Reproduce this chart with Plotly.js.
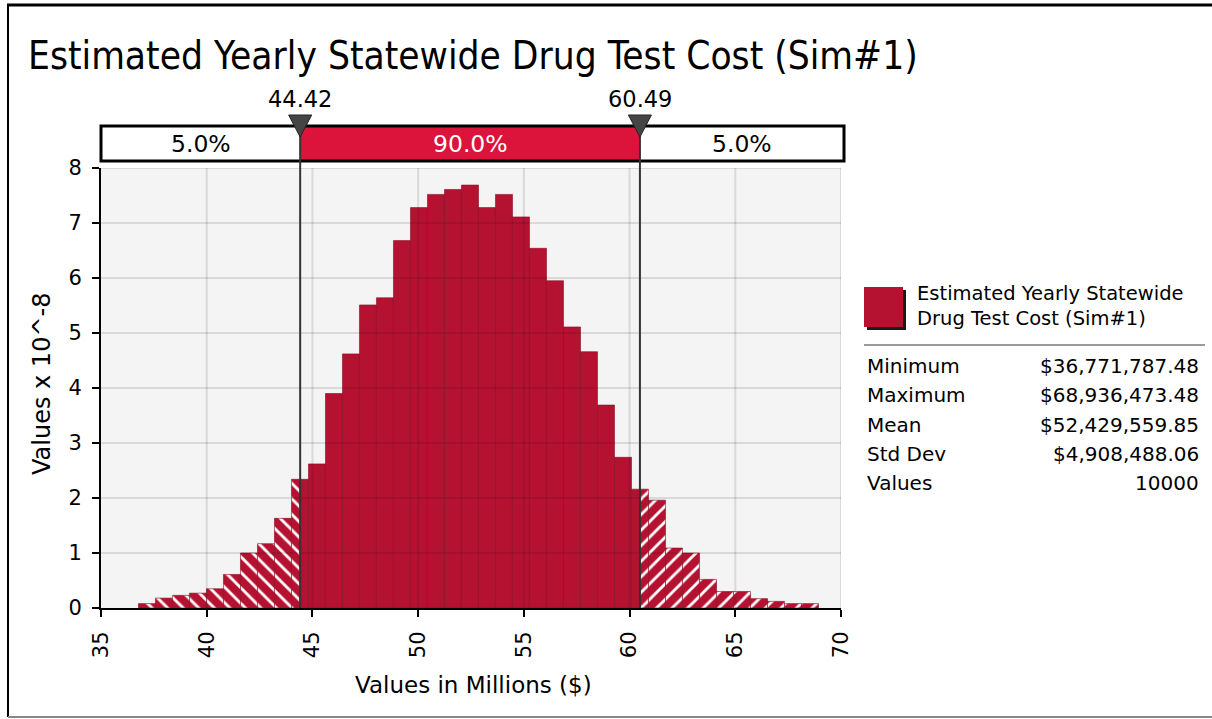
<!DOCTYPE html>
<html><head><meta charset="utf-8">
<script src="https://cdn.plot.ly/plotly-3.0.1.min.js"></script>
<style>html,body{margin:0;padding:0;background:#fff;} #chart{width:1212px;height:719px;}</style>
</head><body><div id="chart"></div>
<script>
// ---------- data ----------
const chartTitle = 'Estimated Yearly Statewide Drug Test Cost (Sim#1)';
const legendLines = ['Estimated Yearly Statewide', 'Drug Test Cost (Sim#1)'];
const xTitle = 'Values in Millions ($)';
const yTitle = 'Values x 10^-8';
const minValue = 36.77178748;   // millions
const maxValue = 68.93647348;   // millions
const binCount = 40;
const density = [0.08,0.18,0.23,0.27,0.35,0.61,1.00,1.17,1.63,2.34,
                 2.62,3.90,4.62,5.51,5.64,6.68,7.28,7.52,7.61,7.69,
                 7.28,7.52,7.11,6.54,5.95,5.11,4.66,3.69,2.74,2.16,
                 1.96,1.09,1.00,0.52,0.30,0.30,0.17,0.12,0.08,0.08];
const delimiters = [44.42, 60.49];
const delimiterLabels = ['44.42', '60.49'];
const regionPercents = ['5.0%', '90.0%', '5.0%'];
const statLabels = ['Minimum', 'Maximum', 'Mean', 'Std Dev', 'Values'];
const statValues = ['$36,771,787.48', '$68,936,473.48', '$52,429,559.85', '$4,908,488.06', '10000'];
const xTicks = [35, 40, 45, 50, 55, 60, 65, 70];
const yTicks = [0, 1, 2, 3, 4, 5, 6, 7, 8];

// ---------- styling / layout helpers ----------
const FONT = 'DejaVu Sans, Verdana, sans-serif';
const FONT_C = 'DejaVu Sans Condensed, DejaVu Sans, sans-serif';
const BAR = '#b51232';
const BARLINE = '#8a0c24';
const CRIMSON = '#dc143c';
const W = 1212, H = 719;
const M = {l: 101, r: 371, t: 168, b: 111};
const PW = W - M.l - M.r, PH = H - M.t - M.b;
const xp = px => (px - M.l) / PW;
const yp = py => (H - M.b - py) / PH;
const xRange = [xTicks[0], xTicks[xTicks.length - 1]];
const yRange = [yTicks[0], yTicks[yTicks.length - 1]];
const unitsPerPx = (xRange[1] - xRange[0]) / PW;
const xToPaper = v => (v - xRange[0]) / (xRange[1] - xRange[0]);

// bins split into the three regions
const binW = (maxValue - minValue) / binCount;
const regions = [[minValue, delimiters[0]], [delimiters[0], delimiters[1]], [delimiters[1], maxValue]];
function regionBars(r) {
  const xs = [], ws = [], ys = [];
  for (let i = 0; i < binCount; i++) {
    const lo = Math.max(minValue + i * binW, r[0]);
    const hi = Math.min(minValue + (i + 1) * binW, r[1]);
    if (hi > lo + 1e-9) { xs.push((lo + hi) / 2); ws.push(hi - lo); ys.push(density[i]); }
  }
  return {xs, ws, ys};
}
const shapesPattern = ['\\', '', '/'];
const traces = regions.map((r, k) => {
  const b = regionBars(r);
  const marker = {color: BAR, line: {color: BARLINE, width: 0.6}};
  if (shapesPattern[k]) marker.pattern = {shape: shapesPattern[k], fgcolor: '#ffffff', bgcolor: BAR, size: 11, solidity: 0.26};
  return {type: 'bar', x: b.xs, y: b.ys, width: b.ws, marker, showlegend: false, hoverinfo: 'x+y'};
});

// ---------- shapes ----------
const shapes = [];
xTicks.slice(1).forEach(v => shapes.push({type: 'line', xref: 'x', yref: 'y', x0: v, x1: v, y0: yRange[0], y1: yRange[1], line: {color: 'rgba(0,0,0,0.11)', width: 2}, layer: 'above'}));
yTicks.slice(1).forEach(v => shapes.push({type: 'line', xref: 'x', yref: 'y', x0: xRange[0], x1: xRange[1], y0: v, y1: v, line: {color: 'rgba(0,0,0,0.11)', width: 2}, layer: 'above'}));
// percentile band (paper coordinates so it may extend a few px beyond the plot)
const bandBot = yp(161), bandTop = yp(126);
const bandEdgesP = [0, xToPaper(delimiters[0]), xToPaper(delimiters[1]), xp(844)];
const bandFills = ['#ffffff', CRIMSON, '#ffffff'];
for (let k = 0; k < 3; k++) {
  shapes.push({type: 'rect', xref: 'paper', yref: 'paper', x0: bandEdgesP[k], x1: bandEdgesP[k + 1], y0: bandBot, y1: bandTop, fillcolor: bandFills[k], line: {width: 0}, layer: 'above'});
}
shapes.push({type: 'rect', xref: 'paper', yref: 'paper', x0: bandEdgesP[0], x1: bandEdgesP[3], y0: bandBot, y1: bandTop, line: {color: '#000', width: 3}, layer: 'above'});
// delimiter lines and triangles
delimiters.forEach(d => {
  shapes.push({type: 'line', xref: 'x', yref: 'paper', x0: d, x1: d, y0: 0, y1: bandTop, line: {color: '#333', width: 2}, layer: 'above'});
  const hw = 11.5 * unitsPerPx;
  const t0 = yp(115), t1 = yp(137);
  shapes.push({type: 'path', xref: 'x', yref: 'paper', path: `M ${d - hw},${t0} L ${d + hw},${t0} L ${d},${t1} Z`, fillcolor: '#454545', line: {color: '#222', width: 1}, layer: 'above'});
});
// legend swatch with shadow
shapes.push({type: 'rect', xref: 'paper', yref: 'paper', x0: xp(867), x1: xp(906), y0: yp(330), y1: yp(290), fillcolor: '#1a1a1a', line: {width: 0}});
shapes.push({type: 'rect', xref: 'paper', yref: 'paper', x0: xp(864), x1: xp(903), y0: yp(327), y1: yp(287), fillcolor: BAR, line: {width: 0}});
// separator
shapes.push({type: 'line', xref: 'paper', yref: 'paper', x0: xp(864), x1: xp(1205), y0: yp(345), y1: yp(345), line: {color: '#9a9a9a', width: 2}});
// outer frame
shapes.push({type: 'line', xref: 'paper', yref: 'paper', x0: xp(7), x1: xp(1212), y0: yp(5), y1: yp(5), line: {color: '#000', width: 3}});
shapes.push({type: 'line', xref: 'paper', yref: 'paper', x0: xp(8), x1: xp(8), y0: yp(5), y1: yp(717), line: {color: '#000', width: 2}});
shapes.push({type: 'line', xref: 'paper', yref: 'paper', x0: xp(8), x1: xp(1212), y0: yp(717), y1: yp(717), line: {color: '#888', width: 2}});

// ---------- annotations ----------
const ann = [];
const txt = (text, x, y, size, opts = {}, fam = FONT, color = '#000') => Object.assign({text, xref: 'paper', yref: 'paper', x, y, showarrow: false, font: {family: fam, size, color}, xanchor: 'center', yanchor: 'middle'}, opts);
ann.push(txt(chartTitle, xp(26), yp(55), 38.5, {xanchor: 'left'}, FONT_C));
delimiters.forEach((d, k) => ann.push(txt(delimiterLabels[k], 0, yp(99), 22.5, {xref: 'x', x: d})));
for (let k = 0; k < 3; k++) {
  ann.push(txt(regionPercents[k], (bandEdgesP[k] + bandEdgesP[k + 1]) / 2, yp(144), 23.5, {}, FONT, k === 1 ? '#fff' : '#000'));
}
ann.push(txt(xTitle, xp(474), yp(685), 23));
ann.push(txt(yTitle, xp(42), yp(384), 24, {textangle: -90}));
ann.push(txt(legendLines.join('<br>'), xp(915), yp(306), 19.5, {xanchor: 'left', align: 'left'}));
statLabels.forEach((s, i) => {
  const y = yp(366 + i * 29.3);
  ann.push(txt(s, xp(865), y, 20, {xanchor: 'left'}));
  ann.push(txt(statValues[i], xp(1201), y, 20, {xanchor: 'right'}));
});

const axisCommon = {ticks: 'outside', ticklen: 7, tickwidth: 2, tickcolor: '#000', showline: true, linecolor: '#000', linewidth: 2,
  showgrid: false, zeroline: false, ticklabelstandoff: 6, tickfont: {family: FONT, size: 21, color: '#000'}, fixedrange: true};
const layout = {
  width: W, height: H,
  margin: M,
  paper_bgcolor: '#ffffff', plot_bgcolor: '#f4f4f4',
  barmode: 'overlay', bargap: 0,
  showlegend: false,
  font: {family: FONT, size: 21, color: '#000'},
  xaxis: Object.assign({range: xRange, tickvals: xTicks, ticktext: xTicks.map(String), tickangle: -90}, axisCommon),
  yaxis: Object.assign({range: yRange, tickvals: yTicks}, axisCommon),
  shapes, annotations: ann
};
Plotly.newPlot('chart', traces, layout, {displayModeBar: false, staticPlot: true});
</script></body></html>
